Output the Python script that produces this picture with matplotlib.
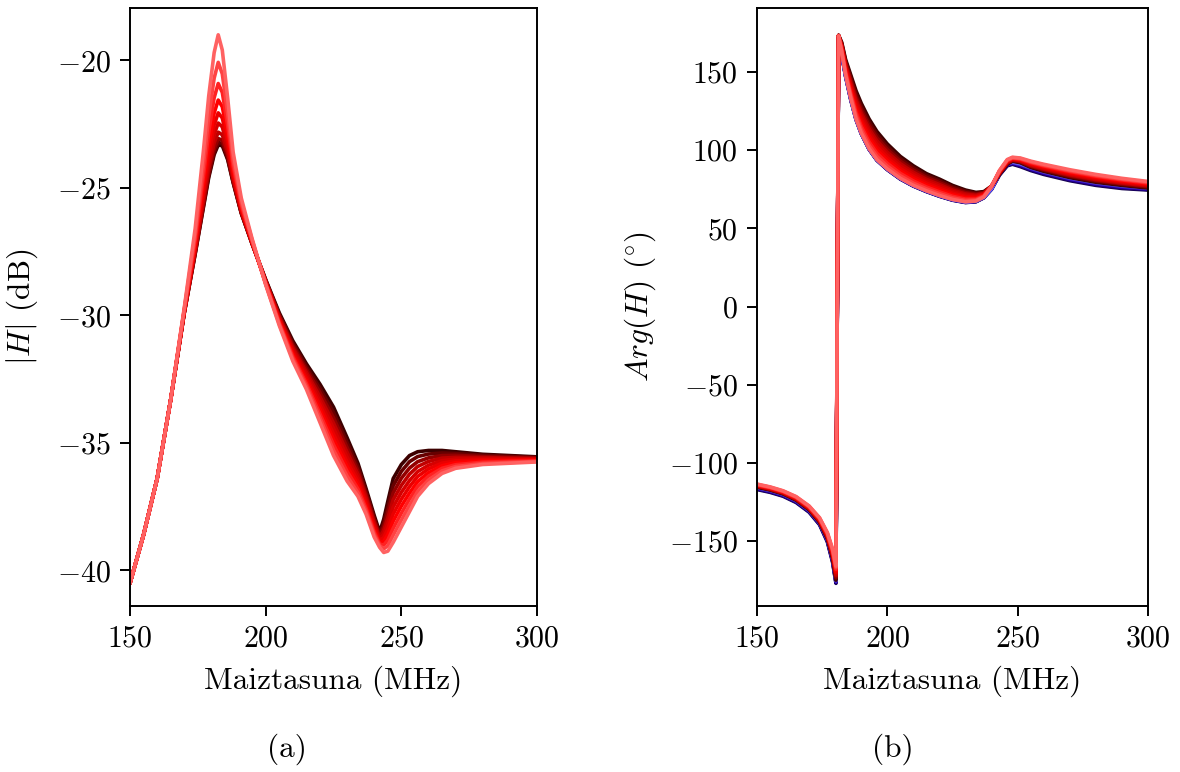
import numpy as np
import matplotlib
matplotlib.use("Agg")
import matplotlib.pyplot as plt
from matplotlib.colors import LinearSegmentedColormap

plt.rcParams["font.family"] = "cmr10"
plt.rcParams["mathtext.fontset"] = "cm"
plt.rcParams["axes.formatter.use_mathtext"] = True
plt.rcParams["axes.unicode_minus"] = True

# ---- magnitude |H| (dB), curves ordered light -> dark ----
freq_mag = [150, 155, 160, 165, 170, 174, 177, 179, 181, 182.5, 184, 186, 188, 191, 195,
            200, 205, 210, 215, 220, 225, 230, 234, 237, 240, 242, 243.5, 245, 247, 250,
            253, 256, 260, 265, 270, 280, 290, 300]

mag_0 = [-40.5, -38.6, -36.4, -33.3, -29.7, -26.6, -23.6, -21.4, -19.7, -19.0, -19.6, -21.5, -23.6,
         -25.4, -27.0, -28.8, -30.4, -31.8, -32.9, -34.2, -35.5, -36.5, -37.1, -37.8, -38.7, -39.1,
         -39.3, -39.25, -38.9, -38.3, -37.7, -37.1, -36.6, -36.2, -36.0, -35.85, -35.8, -35.75]
mag_1 = [-40.5, -38.6, -36.4, -33.3, -29.75, -26.85, -24.15, -22.2, -20.7, -20.08, -20.53, -22.1, -23.9,
         -25.55, -27.05, -28.78, -30.34, -31.71, -32.79, -34.03, -35.29, -36.31, -36.96, -37.69, -38.61,
         -39.03, -39.16, -39.03, -38.62, -38.03, -37.46, -36.91, -36.46, -36.1, -35.93, -35.81, -35.77, -35.73]
mag_2 = [-40.5, -38.6, -36.4, -33.3, -29.79, -27.04, -24.57, -22.81, -21.47, -20.91, -21.26, -22.56, -24.13,
         -25.67, -27.09, -28.76, -30.29, -31.62, -32.68, -33.87, -35.08, -36.12, -36.81, -37.58, -38.51,
         -38.97, -39.01, -38.82, -38.35, -37.76, -37.21, -36.71, -36.31, -36.0, -35.86, -35.76, -35.73, -35.71]
mag_3 = [-40.5, -38.6, -36.4, -33.3, -29.82, -27.19, -24.9, -23.3, -22.07, -21.56, -21.82, -22.92, -24.31,
         -25.76, -27.12, -28.73, -30.23, -31.53, -32.57, -33.7, -34.87, -35.93, -36.67, -37.47, -38.42,
         -38.9, -38.87, -38.6, -38.07, -37.48, -36.97, -36.52, -36.17, -35.9, -35.78, -35.72, -35.7, -35.68]
mag_4 = [-40.5, -38.6, -36.4, -33.3, -29.84, -27.31, -25.16, -23.67, -22.54, -22.06, -22.26, -23.2, -24.45,
         -25.83, -27.14, -28.71, -30.18, -31.45, -32.46, -33.53, -34.66, -35.75, -36.52, -37.36, -38.32,
         -38.83, -38.72, -38.38, -37.79, -37.21, -36.72, -36.32, -36.02, -35.8, -35.71, -35.67, -35.67, -35.66]
mag_5 = [-40.5, -38.6, -36.4, -33.3, -29.86, -27.4, -25.36, -23.97, -22.91, -22.46, -22.61, -23.43, -24.56,
         -25.88, -27.16, -28.69, -30.12, -31.36, -32.34, -33.37, -34.44, -35.56, -36.38, -37.24, -38.23,
         -38.77, -38.58, -38.17, -37.51, -36.94, -36.48, -36.13, -35.88, -35.7, -35.64, -35.63, -35.63, -35.64]
mag_6 = [-40.5, -38.6, -36.4, -33.3, -29.88, -27.48, -25.55, -24.23, -23.24, -22.82, -22.92, -23.62, -24.66,
         -25.93, -27.18, -28.67, -30.07, -31.27, -32.23, -33.2, -34.23, -35.37, -36.23, -37.13, -38.13,
         -38.7, -38.43, -37.95, -37.23, -36.67, -36.23, -35.93, -35.73, -35.6, -35.57, -35.58, -35.6, -35.62]
mag_7 = [-40.5, -38.6, -36.4, -33.3, -29.89, -27.54, -25.67, -24.41, -23.47, -23.07, -23.13, -23.76, -24.73,
         -25.97, -27.19, -28.64, -30.01, -31.18, -32.12, -33.03, -34.02, -35.18, -36.09, -37.02, -38.04,
         -38.63, -38.29, -37.73, -36.96, -36.39, -35.99, -35.74, -35.59, -35.5, -35.49, -35.54, -35.57, -35.59]
mag_8 = [-40.5, -38.6, -36.4, -33.3, -29.9, -27.58, -25.75, -24.53, -23.61, -23.22, -23.26, -23.85, -24.77,
         -25.99, -27.2, -28.62, -29.96, -31.09, -32.01, -32.87, -33.81, -34.99, -35.94, -36.91, -37.94,
         -38.57, -38.14, -37.52, -36.68, -36.12, -35.74, -35.54, -35.44, -35.4, -35.42, -35.49, -35.53, -35.57]
mag_9 = [-40.5, -38.6, -36.4, -33.3, -29.9, -27.6, -25.8, -24.6, -23.7, -23.32, -23.35, -23.9, -24.8,
         -26.0, -27.2, -28.6, -29.9, -31.0, -31.9, -32.7, -33.6, -34.8, -35.8, -36.8, -37.85, -38.5,
         -38.0, -37.3, -36.4, -35.85, -35.5, -35.35, -35.3, -35.3, -35.35, -35.45, -35.5, -35.55]

# ---- phase Arg(H) (deg) ----
freq_ph = [150, 155, 160, 165, 170, 174, 177, 179, 180.3, 181.3, 182.5, 184, 186, 188, 190, 193,
           196, 200, 205, 210, 215, 220, 225, 230, 234, 237, 240, 243, 246, 248, 251, 255, 260,
           270, 280, 290, 300]

ph_0 = [-113.5, -115.3, -117.8, -121.5, -127.5, -135.0, -144.5, -155.0, -166.0, 173.0, 163.0, 148.0, 133.0,
        120.0, 111.0, 101.0, 94.0, 88.0, 82.0, 77.5, 74.0, 71.0, 68.5, 67.0, 67.5, 70.0, 77.0, 87.0, 94.0,
        95.5, 95.0, 93.0, 91.0, 87.5, 84.5, 82.0, 80.0]
ph_1 = [-113.72, -115.52, -118.02, -121.76, -127.78, -135.33, -144.94, -155.67, -167, 173.06, 163.67, 149.11,
        134.67, 122, 113.11, 103.11, 96, 89.78, 83.56, 78.89, 75.22, 72.17, 69.5, 67.83, 68.11, 70.39, 77,
        86.72, 93.67, 95.22, 94.67, 92.56, 90.5, 86.94, 83.94, 81.5, 79.53]
ph_2 = [-113.94, -115.74, -118.24, -122.01, -128.06, -135.67, -145.39, -156.33, -168, 173.11, 164.33, 150.22,
        136.33, 124, 115.22, 105.22, 98, 91.56, 85.11, 80.28, 76.44, 73.33, 70.5, 68.67, 68.72, 70.78, 77,
        86.44, 93.33, 94.94, 94.33, 92.11, 90.0, 86.39, 83.39, 81.0, 79.07]
ph_3 = [-114.17, -115.97, -118.47, -122.27, -128.33, -136.0, -145.83, -157.0, -169, 173.17, 165.0, 151.33,
        138, 126, 117.33, 107.33, 100, 93.33, 86.67, 81.67, 77.67, 74.5, 71.5, 69.5, 69.33, 71.17, 77,
        86.17, 93.0, 94.67, 94.0, 91.67, 89.5, 85.83, 82.83, 80.5, 78.6]
ph_4 = [-114.39, -116.19, -118.69, -122.52, -128.61, -136.33, -146.28, -157.67, -170, 173.22, 165.67, 152.44,
        139.67, 128, 119.44, 109.44, 102, 95.11, 88.22, 83.06, 78.89, 75.67, 72.5, 70.33, 69.94, 71.56, 77,
        85.89, 92.67, 94.39, 93.67, 91.22, 89.0, 85.28, 82.28, 80.0, 78.13]
ph_5 = [-114.61, -116.41, -118.91, -122.78, -128.89, -136.67, -146.72, -158.33, -171, 173.28, 166.33, 153.56,
        141.33, 130, 121.56, 111.56, 104, 96.89, 89.78, 84.44, 80.11, 76.83, 73.5, 71.17, 70.56, 71.94, 77,
        85.61, 92.33, 94.11, 93.33, 90.78, 88.5, 84.72, 81.72, 79.5, 77.67]
ph_6 = [-114.83, -116.63, -119.13, -123.03, -129.17, -137.0, -147.17, -159.0, -172, 173.33, 167.0, 154.67,
        143, 132, 123.67, 113.67, 106, 98.67, 91.33, 85.83, 81.33, 78.0, 74.5, 72.0, 71.17, 72.33, 77,
        85.33, 92.0, 93.83, 93.0, 90.33, 88.0, 84.17, 81.17, 79.0, 77.2]
ph_7 = [-115.06, -116.86, -119.36, -123.29, -129.44, -137.33, -147.61, -159.67, -173, 173.39, 167.67, 155.78,
        144.67, 134, 125.78, 115.78, 108, 100.44, 92.89, 87.22, 82.56, 79.17, 75.5, 72.83, 71.78, 72.72, 77,
        85.06, 91.67, 93.56, 92.67, 89.89, 87.5, 83.61, 80.61, 78.5, 76.73]
ph_8 = [-115.28, -117.08, -119.58, -123.54, -129.72, -137.67, -148.06, -160.33, -174, 173.44, 168.33, 156.89,
        146.33, 136, 127.89, 117.89, 110, 102.22, 94.44, 88.61, 83.78, 80.33, 76.5, 73.67, 72.39, 73.11, 77,
        84.78, 91.33, 93.28, 92.33, 89.44, 87.0, 83.06, 80.06, 78.0, 76.27]
ph_9 = [-115.5, -117.3, -119.8, -123.8, -130.0, -138.0, -148.5, -161.0, -175.0, 173.5, 169.0, 158.0, 148.0,
        138.0, 130.0, 120.0, 112.0, 104.0, 96.0, 90.0, 85.0, 81.5, 77.5, 74.5, 73.0, 73.5, 77.0, 84.5, 91.0,
        93.0, 92.0, 89.0, 86.5, 82.5, 79.5, 77.5, 75.8]

# blue set, drawn underneath
ph_b0 = [-115.5, -117.3, -119.8, -123.8, -130.0, -138.0, -148.5, -161.0, -175.0, 172.5, 162.0, 148.0, 133.0,
         120.0, 111.0, 101.0, 94.0, 88.0, 82.0, 77.5, 74.0, 71.0, 68.5, 67.0, 67.5, 70.0, 75.5, 85.0, 91.5,
         92.5, 91.5, 89.0, 86.5, 82.5, 79.5, 77.5, 76.0]
ph_b1 = [-115.88, -117.68, -120.18, -124.18, -130.38, -138.38, -149.0, -161.63, -175.5, 172.38, 161.75, 147.75,
         132.75, 119.88, 110.88, 100.88, 93.88, 87.88, 81.88, 77.38, 73.88, 70.88, 68.38, 66.88, 67.38, 69.88,
         75.38, 84.75, 91.13, 92.13, 91.0, 88.5, 86.0, 82.0, 79.0, 77.0, 75.63]
ph_b2 = [-116.25, -118.05, -120.55, -124.55, -130.75, -138.75, -149.5, -162.25, -176.0, 172.25, 161.5, 147.5,
         132.5, 119.75, 110.75, 100.75, 93.75, 87.75, 81.75, 77.25, 73.75, 70.75, 68.25, 66.75, 67.25, 69.75,
         75.25, 84.5, 90.75, 91.75, 90.5, 88.0, 85.5, 81.5, 78.5, 76.5, 75.25]
ph_b3 = [-116.63, -118.43, -120.93, -124.93, -131.13, -139.13, -150.0, -162.88, -176.5, 172.13, 161.25, 147.25,
         132.25, 119.63, 110.63, 100.63, 93.63, 87.63, 81.63, 77.13, 73.63, 70.63, 68.13, 66.63, 67.13, 69.63,
         75.13, 84.25, 90.38, 91.38, 90.0, 87.5, 85.0, 81.0, 78.0, 76.0, 74.88]
ph_b4 = [-117.0, -118.8, -121.3, -125.3, -131.5, -139.5, -150.5, -163.5, -177.0, 172.0, 161.0, 147.0, 132.0,
         119.5, 110.5, 100.5, 93.5, 87.5, 81.5, 77.0, 73.5, 70.5, 68.0, 66.5, 67.0, 69.5, 75.0, 84.0, 90.0,
         91.0, 89.5, 87.0, 84.5, 80.5, 77.5, 75.5, 74.5]

mag_curves = [mag_0, mag_1, mag_2, mag_3, mag_4, mag_5, mag_6, mag_7, mag_8, mag_9]
ph_curves = [ph_0, ph_1, ph_2, ph_3, ph_4, ph_5, ph_6, ph_7, ph_8, ph_9]
ph_blue = [ph_b0, ph_b1, ph_b2, ph_b3, ph_b4]

red_cmap = LinearSegmentedColormap.from_list("reds", ["#ff6262", "#ff0000", "#c00000", "#3c0000"])
blue_cmap = LinearSegmentedColormap.from_list("blues", ["#6a6aff", "#2a00b0", "#14004a"])
reds = [red_cmap(i / (len(mag_curves) - 1)) for i in range(len(mag_curves))]
blues = [blue_cmap(i / (len(ph_blue) - 1)) for i in range(len(ph_blue))]

fig = plt.figure(figsize=(11.8, 7.72), dpi=100)
ax1 = fig.add_axes([0.1102, 0.215, 0.3449, 0.7746])
ax2 = fig.add_axes([0.6415, 0.215, 0.3314, 0.7746])

lw = 2.6
# draw dark first so the light curve ends on top
for k in range(len(mag_curves) - 1, -1, -1):
    ax1.plot(freq_mag, mag_curves[k], color=reds[k], lw=lw, solid_capstyle="round")

for k in range(len(ph_blue) - 1, -1, -1):
    ax2.plot(freq_ph, ph_blue[k], color=blues[k], lw=lw)
for k in range(len(ph_curves) - 1, -1, -1):
    ax2.plot(freq_ph, ph_curves[k], color=reds[k], lw=lw)

fs = 22.5
ax1.set_xlim(150, 300)
ax1.set_ylim(-41.4, -17.95)
ax1.set_xticks([150, 200, 250, 300])
ax1.set_yticks([-40, -35, -30, -25, -20])
ax1.set_xlabel("Maiztasuna (MHz)", fontsize=fs, labelpad=9)
ax1.set_ylabel(r"$|H|$ (dB)", fontsize=fs)
ax1.yaxis.set_label_coords(-0.22, 0.5)

ax2.set_xlim(150, 300)
ax2.set_ylim(-191.5, 190.9)
ax2.set_xticks([150, 200, 250, 300])
ax2.set_yticks([-150, -100, -50, 0, 50, 100, 150])
ax2.set_xlabel("Maiztasuna (MHz)", fontsize=fs, labelpad=9)
ax2.set_ylabel(r"$Arg(H)$ $(^{\circ})$", fontsize=fs)
ax2.yaxis.set_label_coords(-0.253, 0.5)

for ax in (ax1, ax2):
    ax.tick_params(labelsize=21.5, length=7, width=1.4, direction="out", pad=7)
    for sp in ax.spines.values():
        sp.set_linewidth(1.4)

fig.text(0.243, 0.029, "(a)", ha="center", va="center", fontsize=fs)
fig.text(0.757, 0.029, "(b)", ha="center", va="center", fontsize=fs)

fig.savefig("out.png", dpi=100)
